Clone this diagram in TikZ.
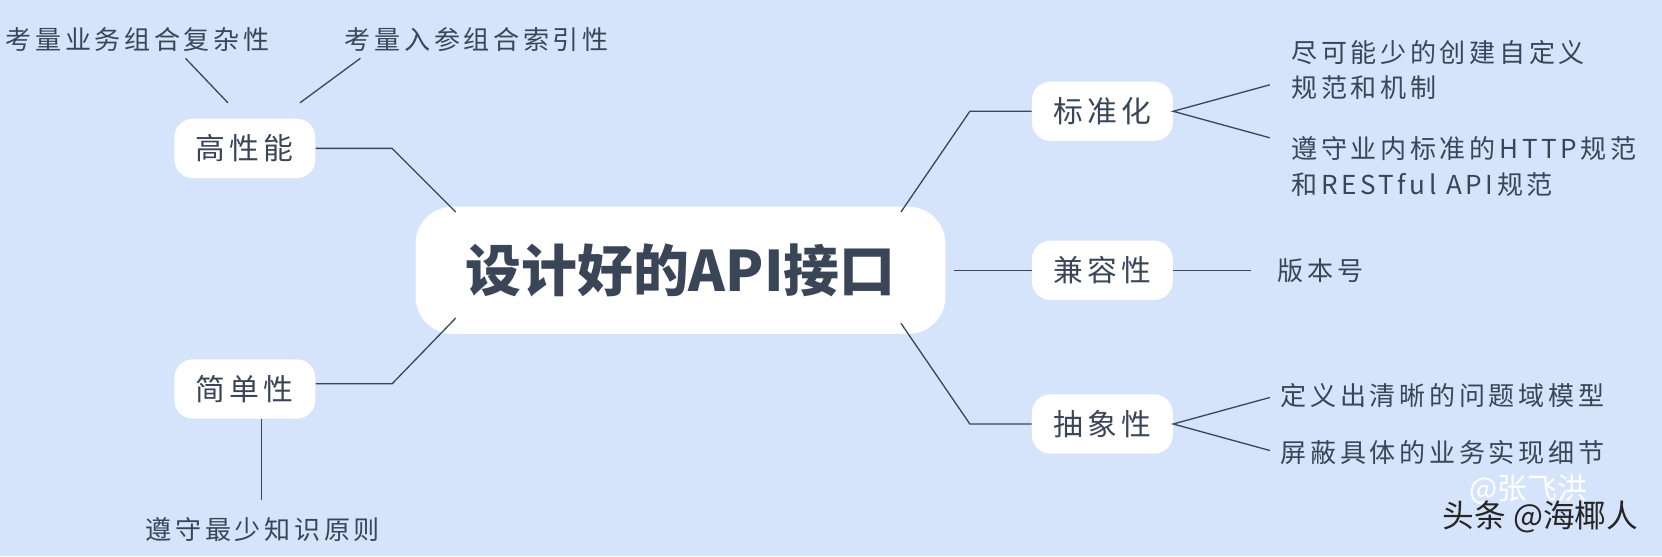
\documentclass[tikz,border=0pt]{standalone}
\usepackage{fontspec}
\setmainfont{Noto Sans CJK SC}
\newfontfamily\spaced[LetterSpace=14]{Noto Sans CJK SC}
\definecolor{bg}{HTML}{D6E4FB}
\definecolor{ink}{HTML}{3A4657}
\begin{document}
\begin{tikzpicture}[x=0.02cm,y=-0.02cm,
  topic/.style={fill=white,rounded corners=0.35cm,minimum width=2.66cm,minimum height=1.12cm,text=ink,font=\spaced\fontsize{16}{18}\selectfont},
  leaf/.style={text=ink,font=\spaced\fontsize{14}{19}\selectfont,inner sep=0pt},
  conn/.style={draw=ink,line width=0.7pt}]
\fill[bg] (0,0) rectangle (1568,525);
\useasboundingbox (0,0) rectangle (1568,525);
\node[topic,minimum width=10cm,minimum height=2.4cm,rounded corners=0.7cm,font=\fontsize{30}{34}\selectfont\bfseries] (c) at (642,255) {设计好的API接口};
\node[topic] (g) at (231,140) {高性能};
\node[topic] (j) at (231,367) {简单性};
\node[topic] (b) at (1040,105) {标准化};
\node[topic] (r) at (1040,255) {兼容性};
\node[topic] (s) at (1040,400) {抽象性};
\node[leaf,anchor=west] (g1) at (5,37) {考量业务组合复杂性};
\node[leaf,anchor=west] (g2) at (325,37) {考量入参组合索引性};
\node[leaf] (j1) at (248,500) {遵守最少知识原则};
\node[leaf,anchor=west,align=left] (b1) at (1218,66) {尽可能少的创建自定义\\规范和机制};
\node[leaf,anchor=west,align=left] (b2) at (1218,157) {遵守业内标准的HTTP规范\\和RESTful API规范};
\node[leaf,anchor=west] (r1) at (1205,255) {版本号};
\node[leaf,anchor=west] (s1) at (1208,373) {定义出清晰的问题域模型};
\node[leaf,anchor=west] (s2) at (1208,427) {屏蔽具体的业务实现细节};
\coordinate (gA) at (215,97); \coordinate (gB) at (175,55);
\coordinate (gC) at (283,97); \coordinate (gD) at (340,55);
\draw[conn] (gA) -- (gB); \draw[conn] (gC) -- (gD);
\draw[conn] (g.east) -- (370,140) -- (430,200);
\draw[conn] (j.east |- 0,362) -- (370,362) -- (430,300);
\draw[conn] (j.south -| 247,0) -- (247,472);
\draw[conn] (b.west) -- (915,105) -- (850,200);
\draw[conn] (r.west) -- (900,255);
\draw[conn] (s.west) -- (915,400) -- (850,305);
\draw[conn] (1198,80) -- (b.east) -- (1198,130);
\draw[conn] (r.east) -- (1180,255);
\draw[conn] (1198,375) -- (s.east) -- (1198,425);
\node[text=white,font=\fontsize{16}{18}\selectfont,anchor=west] (w2) at (1380,462) {@张飞洪};
\node[text=black!85,font=\fontsize{17}{19}\selectfont,anchor=west] (w1) at (1355,488) {头条 @海椰人};
\end{tikzpicture}
\end{document}
